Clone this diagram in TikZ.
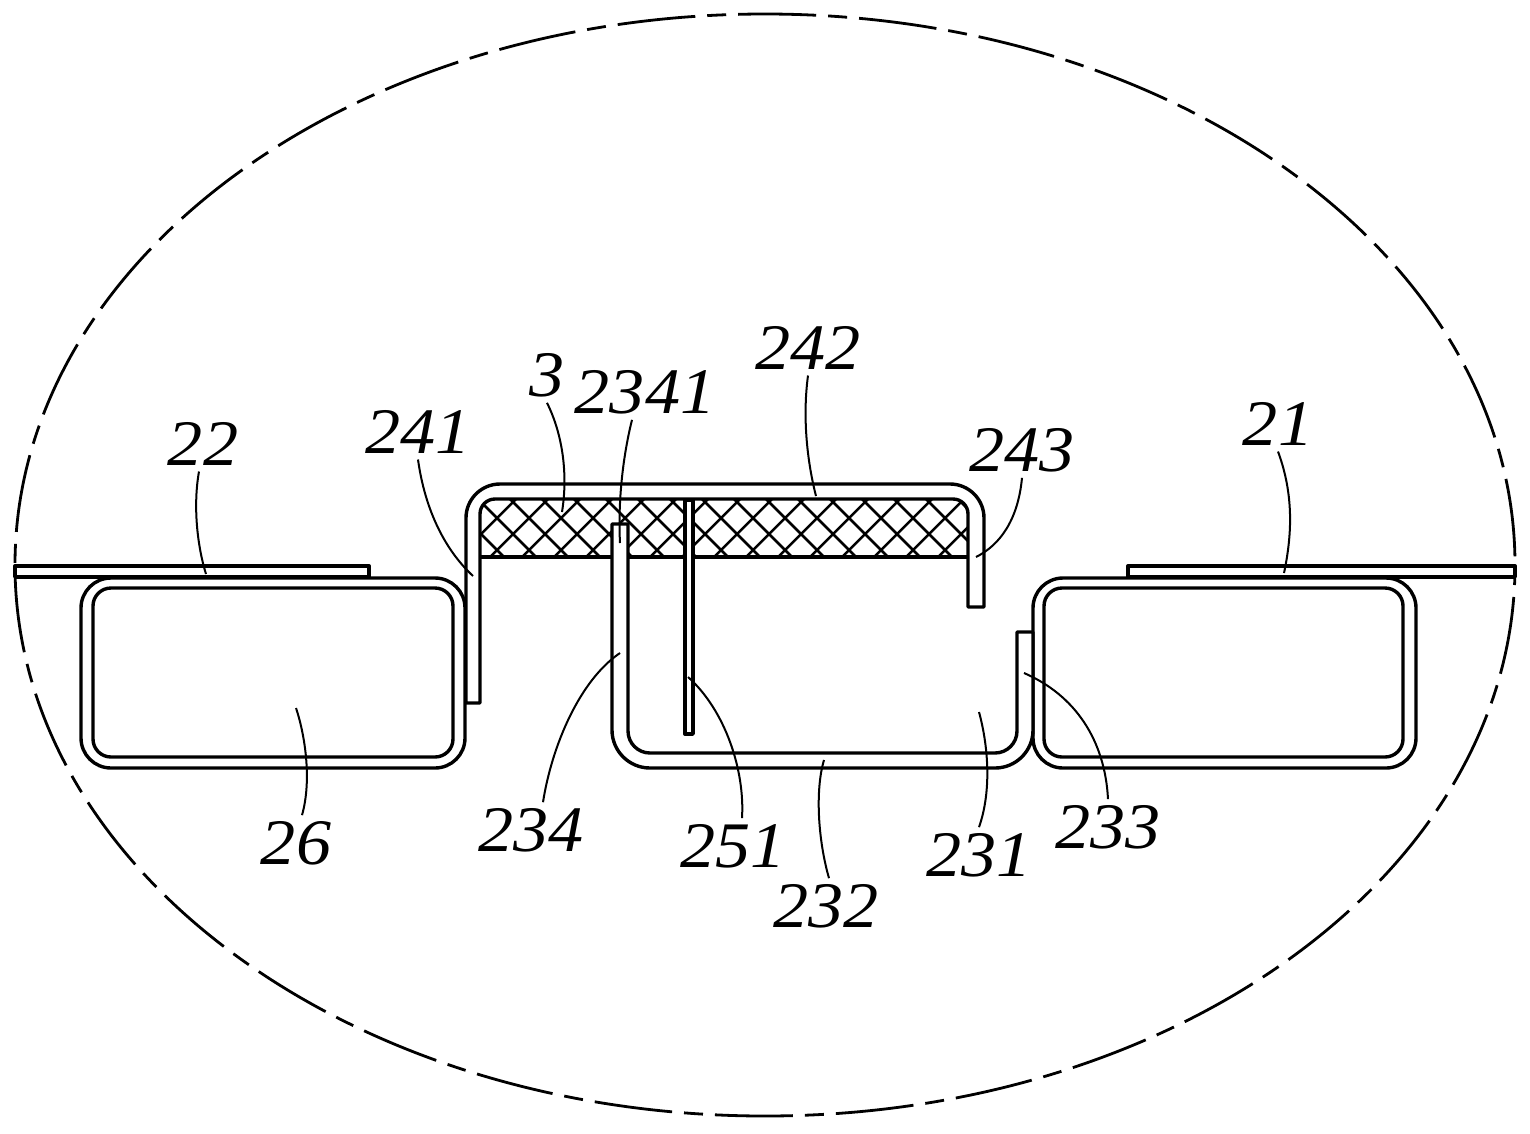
\documentclass[tikz,border=0pt]{standalone}
\usepackage{fontspec}
\setmainfont{Liberation Serif}

\tikzstyle{callout}=[inner sep=0pt, outer sep=6pt, xscale=1.08, font=\fontsize{65}{65}\selectfont\itshape]
\tikzstyle{leader}=[line width=2pt]
\tikzstyle{wall}=[line width=3.4pt, line join=round]
\tikzstyle{hatch}=[line width=2.5pt]
\tikzstyle{rim}=[line width=2.8pt, dash pattern=on 78pt off 12pt on 19pt off 12pt, dash phase=89pt]

\begin{document}
\begin{tikzpicture}[x=1pt, y=-1pt]
      \useasboundingbox (0,0) rectangle (1530,1133);
      \draw[rim] (765,565) ellipse [x radius=750, y radius=551];

      % foam
      \begin{scope}
        \clip (480,499) rectangle (968,557);
        \foreach \hx in {414,446,...,990}
          \draw[hatch] (\hx,499) -- ({\hx+58},557);
        \foreach \hx in {452,484,...,1030}
          \draw[hatch] (\hx,499) -- ({\hx-58},557);
      \end{scope}
      \draw[wall] (480,557) -- (968,557);

      % side boxes
      \draw[wall, rounded corners=30pt] (81,578) rectangle (465,768);
      \draw[wall, rounded corners=18pt] (93,588) rectangle (453,757);
      \draw[wall, rounded corners=30pt] (1033,578) rectangle (1416,768);
      \draw[wall, rounded corners=18pt] (1044,588) rectangle (1403,757);

      % top strips
      \draw[wall, fill=white] (15,566) rectangle (369,577);
      \draw[wall, fill=white] (1128,566) rectangle (1515,577);

      % cap
      \draw[wall, fill=white] (466,703) [rounded corners=34pt] -- (466,484) -- (984,484)
            [sharp corners] -- (984,607) -- (968,607)
            [rounded corners=15pt] -- (968,499) -- (480,499)
            [sharp corners] -- (480,703) -- cycle;

      % channel
      \draw[wall, fill=white] (612,524) [rounded corners=38pt] -- (612,768) -- (1033,768)
            [sharp corners] -- (1033,632) -- (1017,632)
            [rounded corners=22pt] -- (1017,753) -- (628,753)
            [sharp corners] -- (628,524) -- cycle;
      \draw[wall, fill=white] (685,500) rectangle (693,734);

      % reference numerals
      \node[callout] (lab22) at (203,444) {22};
      \node[callout] (lab241) at (418,432) {241};
      \node[callout] (lab3) at (547,375) {3};
      \node[callout] (lab2341) at (645,392) {2341};
      \node[callout] (lab242) at (808,348) {242};
      \node[callout] (lab243) at (1022,450) {243};
      \node[callout] (lab21) at (1278,424) {21};
      \node[callout] (lab26) at (296,843) {26};
      \node[callout] (lab234) at (531,830) {234};
      \node[callout] (lab251) at (733,846) {251};
      \node[callout] (lab232) at (826,906) {232};
      \node[callout] (lab231) at (979,855) {231};
      \node[callout] (lab233) at (1108,827) {233};

      \coordinate (tip22) at (206,574);
      \coordinate (tip241) at (473,576);
      \coordinate (tip3) at (562,512);
      \coordinate (tip2341) at (620,543);
      \coordinate (tip242) at (816,496);
      \coordinate (tip243) at (976,557);
      \coordinate (tip21) at (1284,573);
      \coordinate (tip26) at (296,708);
      \coordinate (tip234) at (620,653);
      \coordinate (tip251) at (688,677);
      \coordinate (tip232) at (824,760);
      \coordinate (tip231) at (979,712);
      \coordinate (tip233) at (1024,673);

      \draw[leader] ([xshift=-4pt]lab22.south) .. controls (193,505) and (197,545) .. (tip22);
      \draw[leader] (lab241.south) .. controls (425,510) and (445,550) .. (tip241);
      \draw[leader] (lab3.south) .. controls (563,435) and (568,475) .. (tip3);
      \draw[leader] ([xshift=-13pt]lab2341.south) .. controls (622,460) and (618,505) .. (tip2341);
      \draw[leader] (lab242.south) .. controls (802,420) and (808,465) .. (tip242);
      \draw[leader] (lab243.south) .. controls (1018,520) and (1000,545) .. (tip243);
      \draw[leader] (lab21.south) .. controls (1294,495) and (1292,535) .. (tip21);
      \draw[leader] ([xshift=6pt]lab26.north) .. controls (312,780) and (305,735) .. (tip26);
      \draw[leader] ([xshift=12pt]lab234.north) .. controls (552,745) and (580,680) .. (tip234);
      \draw[leader] ([xshift=9pt]lab251.north) .. controls (745,770) and (725,710) .. (tip251);
      \draw[leader] ([xshift=3pt]lab232.north) .. controls (818,840) and (815,790) .. (tip232);
      \draw[leader] (lab231.north) .. controls (992,790) and (988,745) .. (tip231);
      \draw[leader] (lab233.north) .. controls (1105,740) and (1075,695) .. (tip233);
\end{tikzpicture}
\end{document}
